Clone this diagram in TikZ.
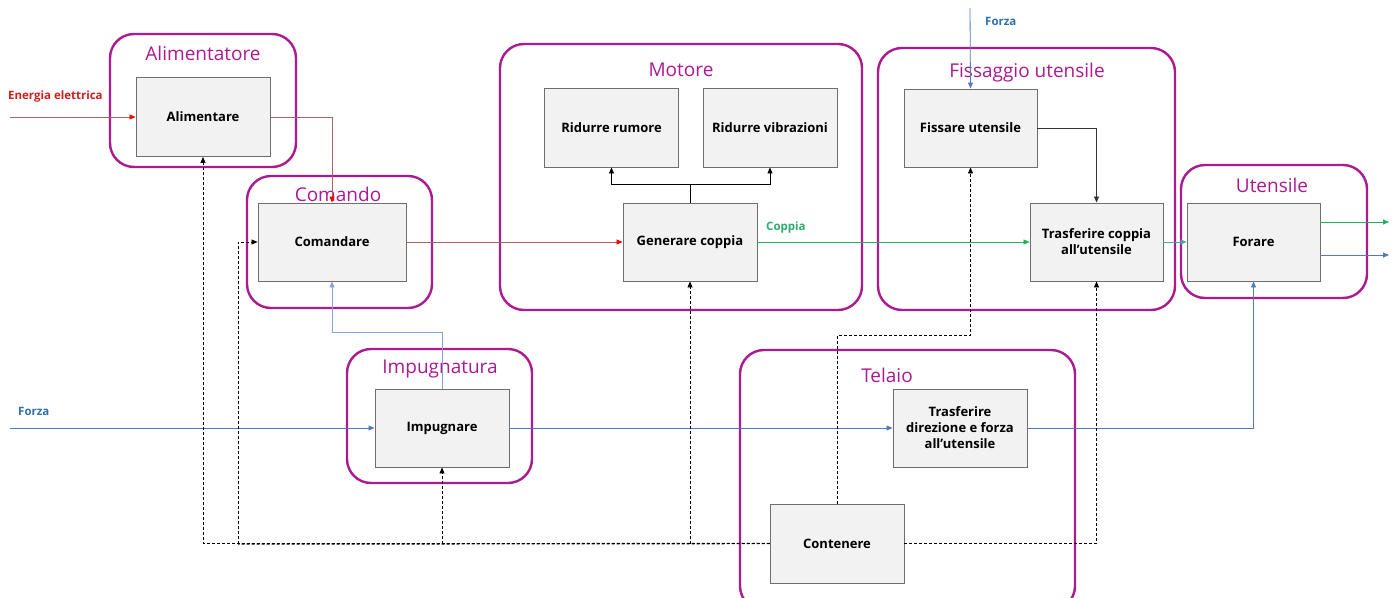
\documentclass[tikz,border=0pt]{standalone}
\usepackage{fontspec}
\setmainfont{Open Sans}
\usetikzlibrary{arrows.meta,calc}
\definecolor{grp}{RGB}{172,26,146}
\definecolor{boxfill}{RGB}{242,242,242}
\definecolor{boxline}{RGB}{110,110,110}
\definecolor{bline}{RGB}{84,122,188}
\definecolor{lbline}{RGB}{135,165,210}
\definecolor{gline}{RGB}{40,172,100}
\definecolor{tline}{RGB}{80,160,170}
\definecolor{rline}{RGB}{165,100,100}
\definecolor{rtext}{RGB}{205,30,30}
\definecolor{ftext}{RGB}{46,112,170}
\definecolor{gtext}{RGB}{45,170,110}
\tikzset{
  grpbox/.style={draw=grp, line width=2.4pt, rounded corners=24pt},
  grptitle/.style={text=grp, font=\fontsize{19}{22}\selectfont, inner sep=0pt},
  fbox/.style={draw=boxline, fill=boxfill, line width=0.9pt, minimum width=134pt, minimum height=79pt,
    font=\bfseries\fontsize{13}{16}\selectfont, align=center, inner sep=2pt},
  sidelbl/.style={font=\bfseries\fontsize{11.5}{13}\selectfont, inner sep=0pt},
  tip/.style={-{Triangle[length=6pt,width=5pt]}},
  fl/.style={line width=0.8pt},
  dl/.style={line width=0.8pt, dash pattern=on 3pt off 2pt, tip},
}
\begin{document}
\begin{tikzpicture}[x=1pt,y=-1pt]
\useasboundingbox[fill=white] (0,0) rectangle (1397,597);
% groups
\draw[grpbox] (110,34) rectangle (296,167);
\draw[grpbox] (247,176) rectangle (432,308);
\draw[grpbox] (500,44) rectangle (862,310);
\draw[grpbox] (878,48) rectangle (1175,310);
\draw[grpbox] (1181,165) rectangle (1367,298);
\draw[grpbox] (347,349) rectangle (532,483);
\draw[grpbox] (740,350) rectangle (1075,610);
\node[grptitle] (tAli) at (203,53) {Alimentatore};
\node[grptitle] (tCom) at (338,194) {Comando};
\node[grptitle] (tMot) at (681,70) {Motore};
\node[grptitle] (tFis) at (1027,73) {Fissaggio utensile};
\node[grptitle] (tUte) at (1272,185) {Utensile};
\node[grptitle] (tImp) at (440,369) {Impugnatura};
\node[grptitle] (tTel) at (887,375) {Telaio};
% function boxes
\node[fbox] (ali) at (203,117) {Alimentare};
\node[fbox, minimum width=148pt, minimum height=78pt] (cmd) at (332,242) {Comandare};
\node[fbox] (rr) at (611.5,127.5) {Ridurre rumore};
\node[fbox] (rv) at (770,127.5) {Ridurre vibrazioni};
\node[fbox, minimum height=78pt] (gen) at (690,242) {Generare coppia};
\node[fbox, minimum width=133pt, minimum height=78pt] (fis) at (970.5,128) {Fissare utensile};
\node[fbox, minimum width=133pt, minimum height=78pt] (tc) at (1096.5,242) {Trasferire coppia\\all’utensile};
\node[fbox, minimum width=133pt, minimum height=78pt] (for) at (1253.5,242) {Forare};
\node[fbox, minimum height=78pt] (imp) at (442,428) {Impugnare};
\node[fbox, minimum height=78pt] (td) at (960,428) {Trasferire\\direzione e forza\\all’utensile};
\node[fbox] (cont) at (837,543.5) {Contenere};
% side labels
\node[sidelbl, text=rtext, anchor=west] (lEn) at (8,97) {Energia elettrica};
\node[sidelbl, text=ftext, anchor=west] (lF1) at (18,411) {Forza};
\node[sidelbl, text=ftext, anchor=west] (lF2) at (985,21) {Forza};
\node[sidelbl, text=gtext, anchor=west] (lCp) at (766,228) {Coppia};
% free ends
\coordinate (eIn) at (10,117);
\coordinate (fIn) at (10,428);
\coordinate (fTop) at (970,8);
\coordinate (oG) at (1389,222);
\coordinate (oB) at (1389,255);
% energy / command
\draw[fl, rline, -{Triangle[length=6pt,width=5pt,color=red]}] (eIn) -- (ali.west);
\draw[fl, rline, -{Triangle[length=6pt,width=5pt,color=red]}] (ali.east) -| (cmd.north);
\draw[fl, rline, -{Triangle[length=6pt,width=5pt,color=red]}] (cmd.east) -- (gen.west);
% motor branches
\draw[fl, black, tip] (gen.north) -- ++(0,-18) -| (rr.south);
\draw[fl, black, tip] (gen.north) -- ++(0,-18) -| (rv.south);
% torque
\draw[fl, gline, tip] (gen.east) -- (tc.west);
\draw[fl, tline, tip] (tc.east) -- (for.west);
\draw[fl, black!80, tip] (fis.east) -| (tc.north);
\draw[fl, bline, tip] (fTop) -- (fis.north);
\draw[fl, gline, tip] ($(for.east)+(0,-20)$) -- (oG);
\draw[fl, bline, tip] ($(for.east)+(0,13)$) -- (oB);
% force
\draw[fl, bline, tip] (fIn) -- (imp.west);
\draw[fl, bline, tip] (imp.east) -- (td.west);
\draw[fl, bline, tip] (td.east) -| (for.south);
\draw[fl, lbline, tip] (imp.north) -- ++(0,-56) -| (cmd.south);
% dashed (containment)
\coordinate (jc) at (238,544);
\draw[dl] (cont.west) -| (ali.south);
\draw[line width=1.4pt, dash pattern=on 3pt off 2pt] (cont.west) -- (jc);
\draw[dl] (jc) |- (cmd.west);
\draw[dl] (imp.south |- cont.west) -- (imp.south);
\draw[dl] (gen.south |- cont.west) -- (gen.south);
\draw[dl] (cont.north) -- ++(0,-168) -| (fis.south);
\draw[dl] (cont.east) -| (tc.south);
\end{tikzpicture}
\end{document}
